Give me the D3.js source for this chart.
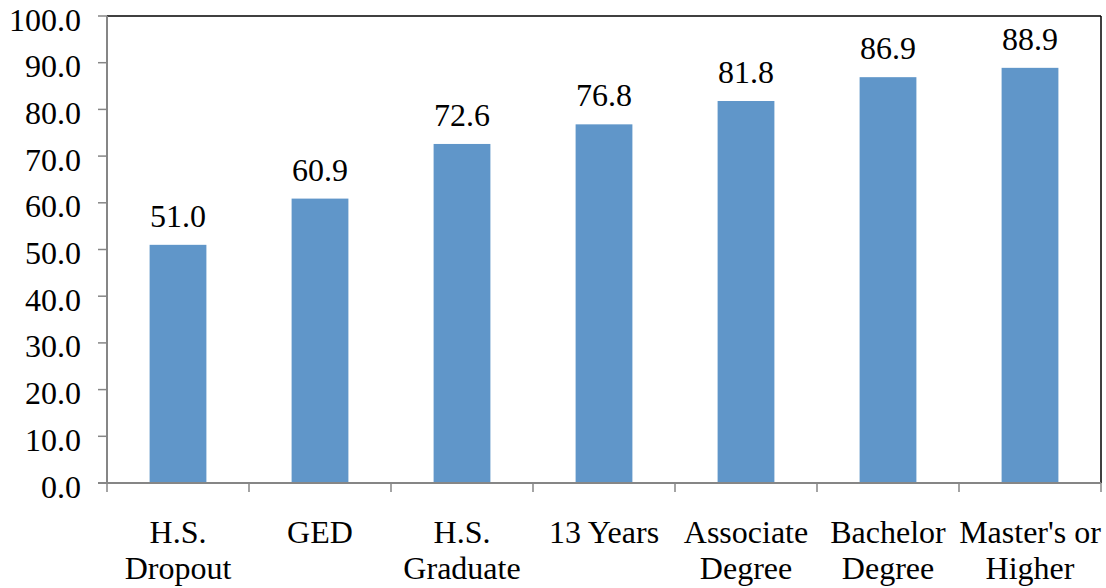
<!DOCTYPE html>
<html>
<head>
<meta charset="utf-8">
<script src="https://cdn.jsdelivr.net/npm/d3@7"></script>
<style>
  body { margin: 0; background: #fff; }
</style>
</head>
<body>
<div id="chart"></div>
<script>
// Chart data
const categories = ["H.S. Dropout", "GED", "H.S. Graduate", "13 Years", "Associate Degree", "Bachelor Degree", "Master's or Higher"];
const labelLines = [["H.S.", "Dropout"], ["GED"], ["H.S.", "Graduate"], ["13 Years"], ["Associate", "Degree"], ["Bachelor", "Degree"], ["Master's or", "Higher"]];
const values = [51.0, 60.9, 72.6, 76.8, 81.8, 86.9, 88.9];
const yTicks = [0, 10, 20, 30, 40, 50, 60, 70, 80, 90, 100];

// Dimensions
const width = 1106, height = 588;
const margin = { top: 16, right: 5, bottom: 105, left: 107 };
const innerW = width - margin.left - margin.right;
const innerH = height - margin.top - margin.bottom;

const fontFamily = "'Liberation Serif', 'Times New Roman', 'DejaVu Serif', serif";
const fontSize = "32px";
const axisColor = "#868686";

const svg = d3.select("#chart").append("svg")
    .attr("width", width)
    .attr("height", height)
    .attr("font-family", fontFamily);

const g = svg.append("g")
    .attr("transform", "translate(" + margin.left + "," + margin.top + ")");

// Scales
const x = d3.scaleBand()
    .domain(categories)
    .range([0, innerW])
    .paddingInner(0.6)
    .paddingOuter(0.3);

const y = d3.scaleLinear()
    .domain([0, 100])
    .range([innerH, 0]);

// Bars
g.selectAll(".bar")
    .data(values)
    .enter().append("rect")
    .attr("class", "bar")
    .attr("x", (d, i) => x(categories[i]))
    .attr("y", d => y(d))
    .attr("width", x.bandwidth())
    .attr("height", d => innerH - y(d))
    .style("fill", "#6096c9");

// Value labels
g.selectAll(".val")
    .data(values)
    .enter().append("text")
    .attr("class", "val")
    .attr("x", (d, i) => x(categories[i]) + x.bandwidth() / 2)
    .attr("y", d => y(d) - 18)
    .attr("text-anchor", "middle")
    .style("font-family", fontFamily)
    .style("font-size", fontSize)
    .text(d => d.toFixed(1));

// Frame on top and right
g.append("line")
    .attr("x1", 0).attr("x2", innerW)
    .attr("y1", 0).attr("y2", 0)
    .style("stroke", "#000").style("stroke-width", 1.5);
g.append("line")
    .attr("x1", innerW).attr("x2", innerW)
    .attr("y1", 0).attr("y2", innerH)
    .style("stroke", "#000").style("stroke-width", 1.5);

// Y axis
g.append("line")
    .attr("x1", 0).attr("x2", 0)
    .attr("y1", 0).attr("y2", innerH)
    .style("stroke", axisColor).style("stroke-width", 2);

g.selectAll(".ytick")
    .data(yTicks)
    .enter().append("line")
    .attr("x1", -9).attr("x2", 0)
    .attr("y1", d => y(d)).attr("y2", d => y(d))
    .style("stroke", axisColor).style("stroke-width", 1.5);

g.selectAll(".ylab")
    .data(yTicks)
    .enter().append("text")
    .attr("x", -26)
    .attr("y", d => y(d) + 14.5)
    .attr("text-anchor", "end")
    .style("font-family", fontFamily)
    .style("font-size", fontSize)
    .text(d => d.toFixed(1));

// X axis
g.append("line")
    .attr("x1", -9).attr("x2", innerW)
    .attr("y1", innerH).attr("y2", innerH)
    .style("stroke", axisColor).style("stroke-width", 2);

const step = x.step();
g.selectAll(".xtick")
    .data(d3.range(categories.length + 1))
    .enter().append("line")
    .attr("x1", i => i * step).attr("x2", i => i * step)
    .attr("y1", innerH).attr("y2", innerH + 9)
    .style("stroke", axisColor).style("stroke-width", 1.5);

const xl = g.selectAll(".xlab")
    .data(labelLines)
    .enter().append("text")
    .attr("text-anchor", "middle")
    .style("font-family", fontFamily)
    .style("font-size", fontSize);

xl.selectAll("tspan")
    .data((d, i) => d.map(t => ({ t: t, cx: x(categories[i]) + x.bandwidth() / 2 })))
    .enter().append("tspan")
    .attr("x", d => d.cx)
    .attr("y", (d, j) => innerH + 60 + j * 36)
    .text(d => d.t);
</script>
</body>
</html>
